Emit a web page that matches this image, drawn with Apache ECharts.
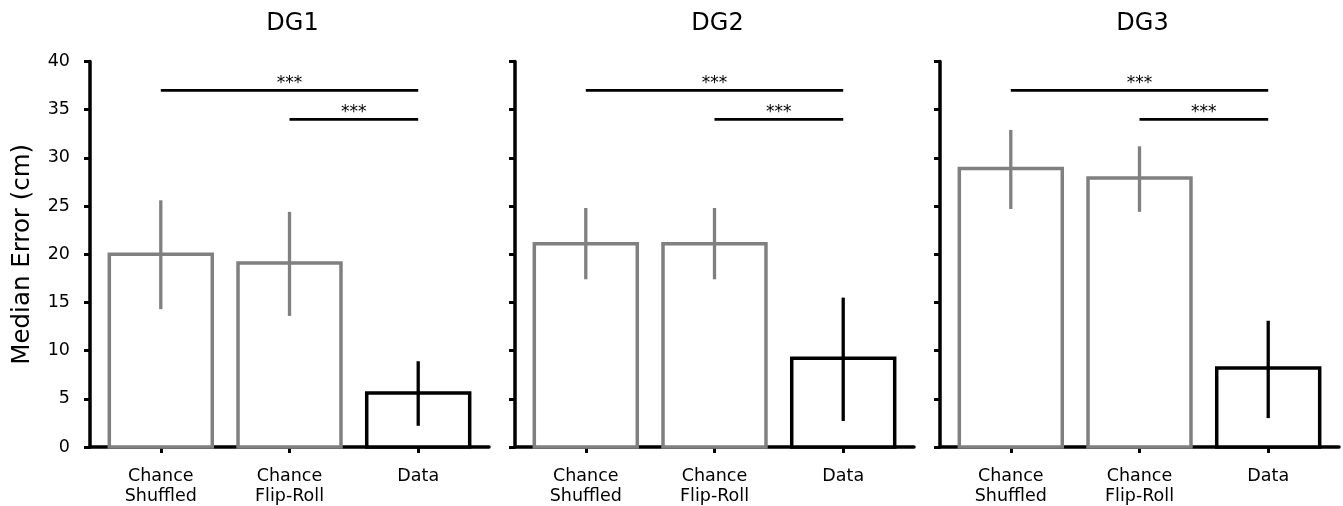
<!DOCTYPE html>
<html>
<head>
<meta charset="utf-8">
<script src="https://cdn.jsdelivr.net/npm/echarts@6/dist/echarts.min.js"></script>
<style>
  html, body { margin: 0; padding: 0; background: #fff; }
  #chart { width: 1343px; height: 506px; }
</style>
</head>
<body>
<div id="chart"></div>
<script>
// panels and categories
const panelNames = ['DG1', 'DG2', 'DG3'];
const categories = ['Chance\nShuffled', 'Chance\nFlip-Roll', 'Data'];

// median error (cm) per panel, with error bar ends
const medianDG1 = [20.0, 19.1, 5.6];
const lowDG1 = [14.3, 13.6, 2.2];
const highDG1 = [25.6, 24.4, 8.9];

const medianDG2 = [21.1, 21.1, 9.2];
const lowDG2 = [17.4, 17.4, 2.7];
const highDG2 = [24.8, 24.8, 15.5];

const medianDG3 = [28.9, 27.9, 8.2];
const lowDG3 = [24.7, 24.4, 3.0];
const highDG3 = [32.9, 31.2, 13.1];

// significance brackets: [from category, to category, height]
const sigPairs = [[0, 2, 37], [1, 2, 34]];
const sigLabel = '***';

const medians = [medianDG1, medianDG2, medianDG3];
const lows = [lowDG1, lowDG2, lowDG3];
const highs = [highDG1, highDG2, highDG3];

const FONT = 'DejaVu Sans';
const GRAY = '#808080';
const chart = echarts.init(document.getElementById('chart'));

const panelLeft = [90, 515, 940];
const panelWidth = 399;

const grids = [], xAxes = [], yAxes = [], series = [], titles = [];

panelNames.forEach(function (name, i) {
    grids.push({left: panelLeft[i], width: panelWidth, top: 61.5, bottom: 58.5});
    titles.push({
        text: name,
        left: panelLeft[i] + panelWidth / 2 - 2,
        top: 7,
        textAlign: 'center',
        textStyle: {fontFamily: FONT, fontSize: 24, fontWeight: 'normal', color: '#000'}
    });
    xAxes.push({
        type: 'value',
        gridIndex: i,
        min: -0.55,
        max: 2.55,
        splitLine: {show: false},
        axisLine: {show: true, onZero: false, lineStyle: {color: '#000', width: 3.5}},
        axisTick: {show: true, customValues: [0, 1, 2], length: 6, lineStyle: {color: '#000', width: 3}},
        axisLabel: {
            customValues: [0, 1, 2],
            formatter: function (v) { return categories[Math.round(v)]; },
            fontFamily: FONT, fontSize: 17.5, lineHeight: 20, color: '#000', margin: 19
        }
    });
    yAxes.push({
        type: 'value',
        gridIndex: i,
        min: 0,
        max: 40,
        interval: 5,
        name: i === 0 ? 'Median Error (cm)' : '',
        nameLocation: 'middle',
        nameGap: 55,
        nameTextStyle: {fontFamily: FONT, fontSize: 24.5, color: '#000'},
        splitLine: {show: false},
        axisLine: {show: true, onZero: false, lineStyle: {color: '#000', width: 3.5}},
        axisTick: {show: true, length: 6, lineStyle: {color: '#000', width: 3}},
        axisLabel: {
            show: i === 0,
            fontFamily: FONT, fontSize: 17.5, color: '#000', margin: 20
        }
    });

    // bars + error bars
    series.push({
        type: 'custom',
        xAxisIndex: i,
        yAxisIndex: i,
        data: medians[i].map(function (m, k) { return [k, m, lows[i][k], highs[i][k]]; }),
        renderItem: function (params, api) {
            const x = api.value(0), v = api.value(1), lo = api.value(2), hi = api.value(3);
            const color = params.dataIndex === 2 ? '#000' : GRAY;
            const tl = api.coord([x - 0.4, v]);
            const br = api.coord([x + 0.4, 0]);
            const e0 = api.coord([x, lo]);
            const e1 = api.coord([x, hi]);
            return {
                type: 'group',
                children: [{
                    type: 'rect',
                    shape: {x: tl[0], y: tl[1], width: br[0] - tl[0], height: br[1] - tl[1]},
                    style: {fill: '#fff', stroke: color, lineWidth: 3.5}
                }, {
                    type: 'line',
                    shape: {x1: e0[0], y1: e0[1], x2: e1[0], y2: e1[1]},
                    style: {stroke: color, lineWidth: 3.3}
                }]
            };
        },
        z: 2
    });

    // significance brackets
    series.push({
        type: 'custom',
        xAxisIndex: i,
        yAxisIndex: i,
        data: sigPairs,
        renderItem: function (params, api) {
            const a = api.coord([api.value(0), api.value(2)]);
            const b = api.coord([api.value(1), api.value(2)]);
            return {
                type: 'group',
                children: [{
                    type: 'line',
                    shape: {x1: a[0], y1: a[1], x2: b[0], y2: b[1]},
                    style: {stroke: '#000', lineWidth: 2.7}
                }, {
                    type: 'text',
                    style: {
                        x: (a[0] + b[0]) / 2,
                        y: a[1] - 7,
                        text: sigLabel,
                        fill: '#000',
                        font: '17px "DejaVu Sans"',
                        textAlign: 'center',
                        textVerticalAlign: 'middle'
                    }
                }]
            };
        },
        z: 3
    });
});

chart.setOption({
    animation: false,
    backgroundColor: '#fff',
    title: titles,
    grid: grids,
    xAxis: xAxes,
    yAxis: yAxes,
    series: series
});
</script>
</body>
</html>
